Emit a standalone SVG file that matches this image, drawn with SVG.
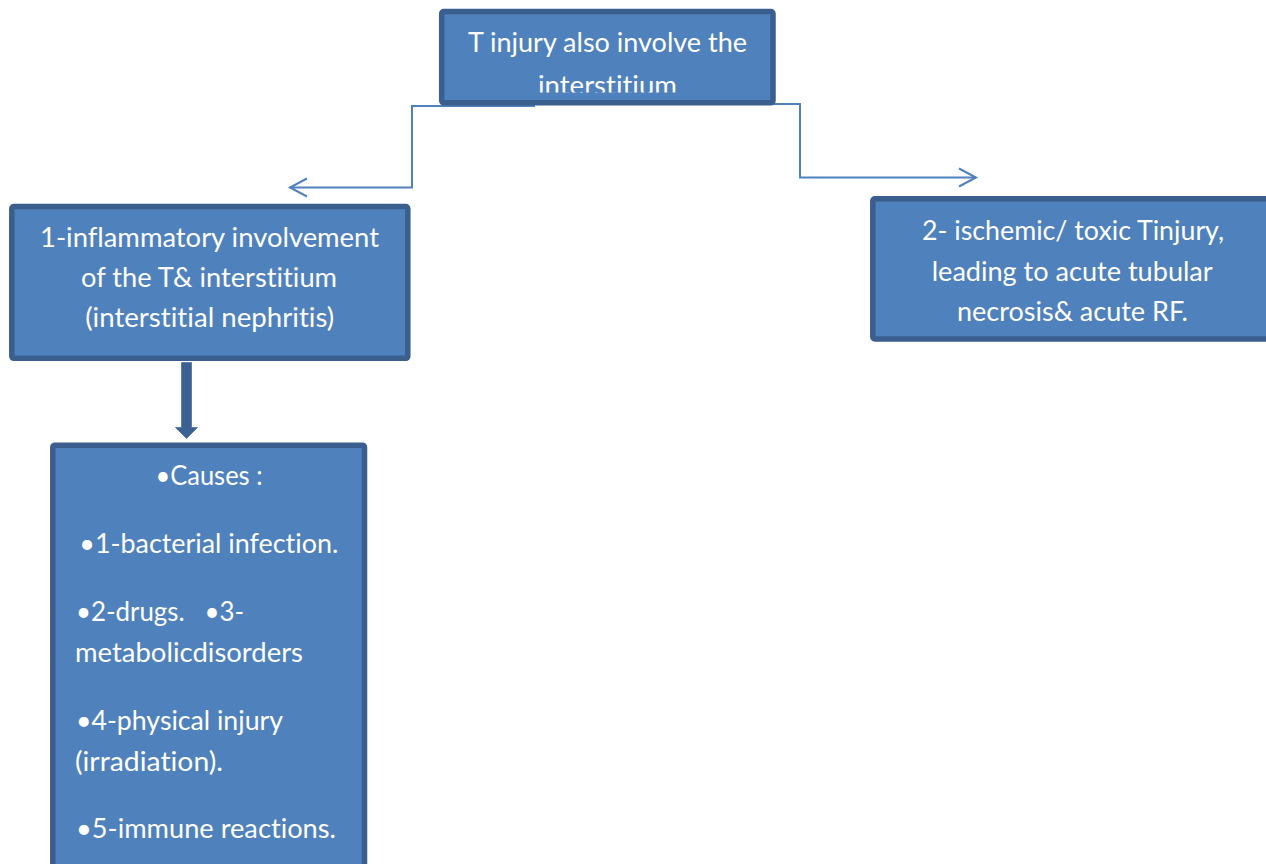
<svg xmlns="http://www.w3.org/2000/svg" width="1266" height="864" viewBox="0 0 1266 864">
<style>
.box{fill:#4F81BD;stroke:#3A5F8E;stroke-width:5.5}
.t{font-family:Lato,"Open Sans","Liberation Sans",sans-serif;font-size:27px;fill:#FFFFFF;font-variant-ligatures:none;font-feature-settings:"liga" 0}
.c{text-anchor:middle}
.ln{fill:none;stroke:#4F81BD;stroke-width:2}
</style>
<defs>
<clipPath id="topclip"><rect x="444" y="14" width="327" height="78.6"/></clipPath>
</defs>
<g id="connectors">
<polyline class="ln" points="535,106 412,106 412,187.5 290,187.5"/>
<polyline class="ln" points="307,178.5 290,187.5 307,196.5"/>
<polyline class="ln" points="622,104 800,104 800,177.5 976,177.5"/>
<polyline class="ln" points="959,168.5 976,177.5 959,186.5"/>
<path d="M181.5,362.5 H191.5 V427.5 H197.5 L186.5,438.5 L175.5,427.5 H181.5 Z" fill="#3B6190" stroke="#4A72A4" stroke-width="0.8"/>
</g>
<g id="node-top">
<rect class="box" x="441.7" y="11.5" width="331.3" height="91.3" rx="2"/>
<g clip-path="url(#topclip)">
<text class="t c" x="607.5" y="52.3" textLength="279" lengthAdjust="spacingAndGlyphs">T injury also involve the</text>
<text class="t c" x="607.5" y="95" textLength="139" lengthAdjust="spacingAndGlyphs">interstitium</text>
</g>
</g>
<g id="node-inflammatory">
<rect class="box" x="11.8" y="206.5" width="396" height="151.8" rx="2"/>
<text class="t c" x="209.5" y="246.7" textLength="339" lengthAdjust="spacingAndGlyphs">1-inflammatory involvement</text>
<text class="t c" x="209" y="287" textLength="256" lengthAdjust="spacingAndGlyphs">of the T&amp; interstitium</text>
<text class="t c" x="209.7" y="327" textLength="249" lengthAdjust="spacingAndGlyphs">(interstitial nephritis)</text>
</g>
<g id="node-ischemic">
<rect class="box" x="872.8" y="198.8" width="410" height="140.2" rx="2"/>
<text class="t c" x="1073" y="240" textLength="302" lengthAdjust="spacingAndGlyphs">2- ischemic/ toxic Tinjury,</text>
<text class="t c" x="1072.2" y="280.5" textLength="281" lengthAdjust="spacingAndGlyphs">leading to acute tubular</text>
<text class="t c" x="1072.5" y="320.5" textLength="231" lengthAdjust="spacingAndGlyphs">necrosis&amp; acute RF.</text>
</g>
<g id="node-causes">
<rect class="box" x="52.8" y="445.2" width="311.7" height="430" rx="2"/>
<text class="t c" x="209" y="484.5" textLength="107" lengthAdjust="spacingAndGlyphs">•Causes :</text>
<text class="t" x="79.3" y="552.7" textLength="259" lengthAdjust="spacingAndGlyphs">•1-bacterial infection.</text>
<text class="t" x="76" y="620.7" xml:space="preserve" textLength="168" lengthAdjust="spacingAndGlyphs">•2-drugs.   •3-</text>
<text class="t" x="75" y="661.7" textLength="228" lengthAdjust="spacingAndGlyphs">metabolicdisorders</text>
<text class="t" x="76" y="730" textLength="207" lengthAdjust="spacingAndGlyphs">•4-physical injury</text>
<text class="t" x="75" y="770.7" textLength="148" lengthAdjust="spacingAndGlyphs">(irradiation).</text>
<text class="t" x="76" y="838.3" textLength="260" lengthAdjust="spacingAndGlyphs">•5-immune reactions.</text>
</g>
</svg>
